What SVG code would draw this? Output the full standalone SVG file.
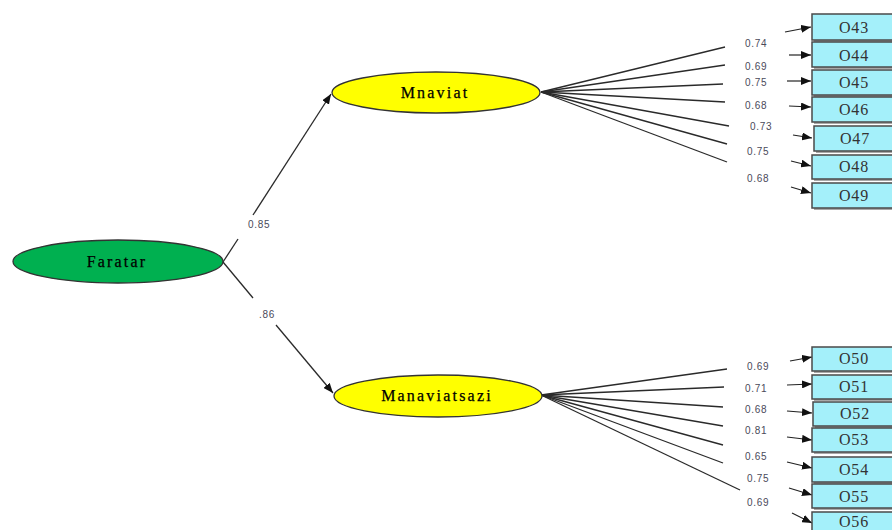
<svg xmlns="http://www.w3.org/2000/svg" width="892" height="530" viewBox="0 0 892 530">
<style>
.bg{fill:#ffffff}
.lat{stroke:#333;stroke-width:1.3}
.nl{font-family:"Liberation Serif","Times New Roman",serif;font-size:16px;fill:#000;text-anchor:middle;letter-spacing:2.2px;stroke:#000;stroke-width:0.25}
.box{fill:#A4F0FA;stroke:#4a4a4a;stroke-width:1.5}
.shd{fill:#a8a8a8}
.bl{font-family:"Liberation Serif","Times New Roman",serif;font-size:16px;fill:#333;text-anchor:middle;letter-spacing:0.8px}
.ln{stroke:#2a2a2a;stroke-width:1.3;fill:none}
.ar{stroke:#222;stroke-width:1.2;fill:none}
.cf{font-family:"Liberation Sans",Arial,sans-serif;font-size:10px;fill:#4a4a5a;letter-spacing:0.7px;dominant-baseline:middle}
</style>
<defs>
<marker id="ah" markerUnits="userSpaceOnUse" markerWidth="10" markerHeight="8" refX="10" refY="4" orient="auto">
<path d="M0,0 L10,4 L0,8 Z" fill="#111"/>
</marker>
</defs>
<rect class="bg" width="892" height="530"/>

<g id="connectors">
<line class="ln" x1="223" y1="262" x2="238" y2="239"/>
<line class="ln" x1="253" y1="215" x2="331" y2="94" marker-end="url(#ah)"/>
<line class="ln" x1="223" y1="262" x2="253" y2="298"/>
<line class="ln" x1="276" y1="325" x2="333" y2="393" marker-end="url(#ah)"/>
<g id="loadings-top">
<line class="ln" x1="541" y1="92" x2="725" y2="47"/>
<line class="ln" x1="541" y1="92" x2="725" y2="65"/>
<line class="ln" x1="541" y1="92" x2="723" y2="84"/>
<line class="ln" x1="541" y1="92" x2="725" y2="102"/>
<line class="ln" x1="541" y1="92" x2="729" y2="126"/>
<line class="ln" x1="541" y1="92" x2="727" y2="144"/>
<line class="ln" x1="541" y1="92" x2="727" y2="162"/>
</g>
<g id="loadings-bottom">
<line class="ln" x1="541" y1="395" x2="727" y2="369"/>
<line class="ln" x1="541" y1="395" x2="724" y2="387"/>
<line class="ln" x1="541" y1="395" x2="723" y2="407"/>
<line class="ln" x1="541" y1="395" x2="723" y2="426"/>
<line class="ln" x1="541" y1="395" x2="723" y2="445"/>
<line class="ln" x1="541" y1="395" x2="723" y2="463"/>
<line class="ln" x1="541" y1="395" x2="740" y2="490"/>
</g>
<g id="error-arrows">
<line class="ar" x1="785" y1="32" x2="811" y2="27" marker-end="url(#ah)"/>
<line class="ar" x1="789" y1="55" x2="811" y2="55" marker-end="url(#ah)"/>
<line class="ar" x1="787" y1="81" x2="811" y2="81" marker-end="url(#ah)"/>
<line class="ar" x1="789" y1="106" x2="811" y2="107" marker-end="url(#ah)"/>
<line class="ar" x1="793" y1="135" x2="812" y2="138" marker-end="url(#ah)"/>
<line class="ar" x1="791" y1="161" x2="811" y2="166" marker-end="url(#ah)"/>
<line class="ar" x1="791" y1="187" x2="811" y2="193" marker-end="url(#ah)"/>
<line class="ar" x1="790" y1="361" x2="812" y2="357" marker-end="url(#ah)"/>
<line class="ar" x1="787" y1="385" x2="812" y2="384" marker-end="url(#ah)"/>
<line class="ar" x1="787" y1="411" x2="812" y2="413" marker-end="url(#ah)"/>
<line class="ar" x1="787" y1="437" x2="812" y2="440" marker-end="url(#ah)"/>
<line class="ar" x1="787" y1="462" x2="812" y2="468" marker-end="url(#ah)"/>
<line class="ar" x1="789" y1="488" x2="812" y2="495" marker-end="url(#ah)"/>
<line class="ar" x1="792" y1="513" x2="812" y2="523" marker-end="url(#ah)"/>
</g>
<g id="coef-labels">
<text class="cf" x="248" y="225">0.85</text>
<text class="cf" x="259" y="315">.86</text>
<text class="cf" x="745" y="44">0.74</text>
<text class="cf" x="745" y="67">0.69</text>
<text class="cf" x="745" y="83">0.75</text>
<text class="cf" x="745" y="106">0.68</text>
<text class="cf" x="750" y="127">0.73</text>
<text class="cf" x="747" y="152">0.75</text>
<text class="cf" x="747" y="179">0.68</text>
<text class="cf" x="747" y="367">0.69</text>
<text class="cf" x="745" y="389">0.71</text>
<text class="cf" x="745" y="410">0.68</text>
<text class="cf" x="745" y="431">0.81</text>
<text class="cf" x="745" y="457">0.65</text>
<text class="cf" x="747" y="479">0.75</text>
<text class="cf" x="747" y="503">0.69</text>
</g>
</g>

<g id="Faratar">
<ellipse cx="118" cy="261.5" rx="105" ry="21.5" fill="#00B050" class="lat"/>
<text class="nl" x="117" y="267">Faratar</text>
</g>
<g id="Mnaviat">
<ellipse cx="436" cy="92.5" rx="104" ry="20.5" fill="#FFFF00" class="lat"/>
<text class="nl" x="435" y="98">Mnaviat</text>
</g>
<g id="Manaviatsazi">
<ellipse cx="438" cy="396" rx="104" ry="21" fill="#FFFF00" class="lat"/>
<text class="nl" x="437" y="401">Manaviatsazi</text>
</g>

<g id="O43"><rect class="shd" x="814" y="16" width="90" height="26"/><rect class="box" x="812" y="14" width="90" height="26"/><text class="bl" x="854" y="33">O43</text></g>
<g id="O44"><rect class="shd" x="814" y="44" width="90" height="25"/><rect class="box" x="812" y="42" width="90" height="25"/><text class="bl" x="854" y="61">O44</text></g>
<g id="O45"><rect class="shd" x="814" y="72" width="90" height="25"/><rect class="box" x="812" y="70" width="90" height="25"/><text class="bl" x="854" y="88">O45</text></g>
<g id="O46"><rect class="shd" x="814" y="99" width="90" height="25"/><rect class="box" x="812" y="97" width="90" height="25"/><text class="bl" x="854" y="115">O46</text></g>
<g id="O47"><rect class="shd" x="816" y="128" width="90" height="25"/><rect class="box" x="814" y="126" width="90" height="25"/><text class="bl" x="855" y="144">O47</text></g>
<g id="O48"><rect class="shd" x="814" y="157" width="90" height="24"/><rect class="box" x="812" y="155" width="90" height="24"/><text class="bl" x="854" y="172">O48</text></g>
<g id="O49"><rect class="shd" x="814" y="185" width="90" height="25"/><rect class="box" x="812" y="183" width="90" height="25"/><text class="bl" x="854" y="201">O49</text></g>

<g id="O50"><rect class="shd" x="814" y="349" width="90" height="24"/><rect class="box" x="812" y="347" width="90" height="24"/><text class="bl" x="854" y="364">O50</text></g>
<g id="O51"><rect class="shd" x="814" y="377" width="90" height="24"/><rect class="box" x="812" y="375" width="90" height="24"/><text class="bl" x="854" y="392">O51</text></g>
<g id="O52"><rect class="shd" x="815" y="404" width="90" height="24"/><rect class="box" x="813" y="402" width="90" height="24"/><text class="bl" x="855" y="419">O52</text></g>
<g id="O53"><rect class="shd" x="814" y="430" width="90" height="24"/><rect class="box" x="812" y="428" width="90" height="24"/><text class="bl" x="854" y="445">O53</text></g>
<g id="O54"><rect class="shd" x="814" y="459" width="90" height="25"/><rect class="box" x="812" y="457" width="90" height="25"/><text class="bl" x="854" y="475">O54</text></g>
<g id="O55"><rect class="shd" x="814" y="486" width="90" height="24"/><rect class="box" x="812" y="484" width="90" height="24"/><text class="bl" x="854" y="502">O55</text></g>
<g id="O56"><rect class="shd" x="814" y="514" width="90" height="24"/><rect class="box" x="812" y="512" width="90" height="24"/><text class="bl" x="854" y="527" font-size="14">O56</text></g>
</svg>
